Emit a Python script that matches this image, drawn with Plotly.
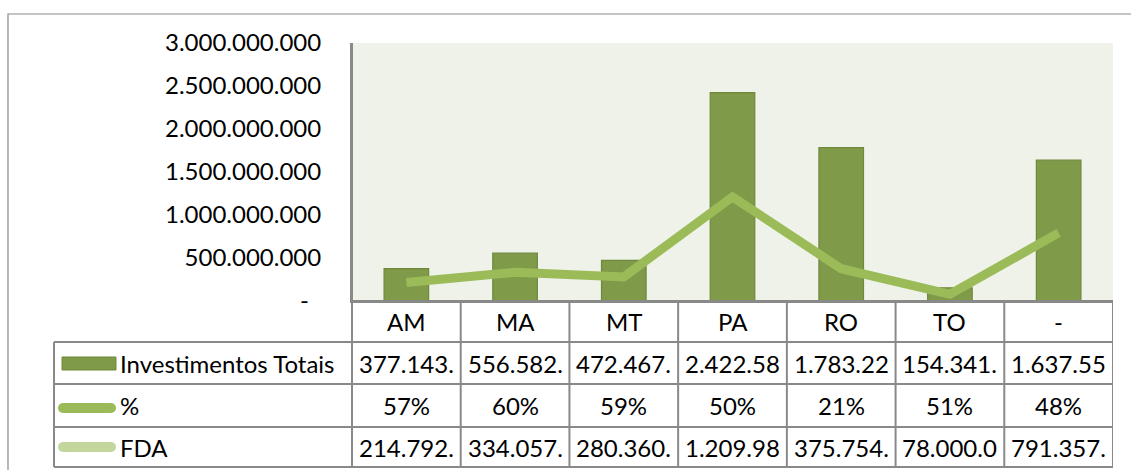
import plotly.graph_objects as go

# ---------------- data ----------------
categories = ["AM", "MA", "MT", "PA", "RO", "TO", "-"]
investimentos = [377143000, 556582000, 472467000, 2422580000, 1783220000, 154341000, 1637550000]
pct = [0.57, 0.60, 0.59, 0.50, 0.21, 0.51, 0.48]
fda = [214792000, 334057000, 280360000, 1209980000, 375754000, 78000000, 791357000]
series_names = ["Investimentos Totais", "%", "FDA"]
y_tickvals = [0, 500000000, 1000000000, 1500000000, 2000000000, 2500000000, 3000000000]
y_ticktext = ["-\u00a0\u00a0", "500.000.000", "1.000.000.000", "1.500.000.000",
              "2.000.000.000", "2.500.000.000", "3.000.000.000"]

# ---------------- layout constants ----------------
W, H = 1131, 470
PX0, PX1 = 352, 1113      # plot area x (pixels)
PY0, PY1 = 43, 301        # plot area y (pixels, top / bottom)
ROWS = [301, 342, 384, 427, 467]   # table row borders (pixels)
LEG_X0 = 54
FONT = "Lato"
FS = 24
GRID = "#898989"
BAR = "#7F9A48"
BAR_LINE = "#6F883C"
LINE1 = "#9BBB59"
LINE2 = "#C3D69B"


def px(x):
    return x / W


def py(y):
    return 1 - y / H


def fmt_cell(v):
    s = f"{v:,.0f}".replace(",", ".")
    return s[:8]


def fmt_pct(v):
    return f"{round(v * 100):d}%"


fig = go.Figure()
fig.add_trace(go.Bar(
    x=categories, y=investimentos, name=series_names[0],
    marker=dict(color=BAR, line=dict(color=BAR_LINE, width=1.2)),
    width=0.41, showlegend=False, hoverinfo="skip"))
fig.add_trace(go.Scatter(
    x=categories, y=fda, name=series_names[2], mode="lines",
    line=dict(color=LINE1, width=9), showlegend=False, hoverinfo="skip"))

shapes = []
annotations = []

# outer chart border
shapes.append(dict(type="rect", xref="paper", yref="paper",
                   x0=px(8), x1=px(W + 20), y0=py(14), y1=py(H + 20),
                   line=dict(color=GRID, width=1.2), fillcolor="rgba(0,0,0,0)", layer="below"))

n = len(categories)
# vertical table lines at category boundaries
for k in range(n + 1):
    shapes.append(dict(type="line", xref="x", yref="paper",
                       x0=k - 0.5, x1=k - 0.5, y0=py(ROWS[0]), y1=py(ROWS[-1]),
                       line=dict(color=GRID, width=2)))
# left axis continuation
shapes.append(dict(type="line", xref="paper", yref="paper",
                   x0=px(PX0), x1=px(PX0), y0=py(PY0), y1=py(ROWS[-1]),
                   line=dict(color=GRID, width=2)))
# horizontal rows
for i, r in enumerate(ROWS):
    x0 = PX0 if i == 0 else LEG_X0
    shapes.append(dict(type="line", xref="paper", yref="paper",
                       x0=px(x0), x1=px(PX1), y0=py(r), y1=py(r),
                       line=dict(color=GRID, width=2)))
# legend column left border
shapes.append(dict(type="line", xref="paper", yref="paper",
                   x0=px(LEG_X0), x1=px(LEG_X0), y0=py(ROWS[1]), y1=py(ROWS[-1]),
                   line=dict(color=GRID, width=2)))

# legend keys
shapes.append(dict(type="rect", xref="paper", yref="paper",
                   x0=px(62), x1=px(116), y0=py(357), y1=py(370),
                   fillcolor=BAR, line=dict(color=BAR_LINE, width=1)))
for yc, col in [(408, LINE1), (447, LINE2)]:
    shapes.append(dict(type="line", xref="paper", yref="paper",
                       x0=px(63), x1=px(111), y0=py(yc), y1=py(yc),
                       line=dict(color=col, width=10)))
    for xc in (63, 111):
        shapes.append(dict(type="circle", xref="paper", yref="paper",
                           x0=px(xc - 5), x1=px(xc + 5), y0=py(yc - 5), y1=py(yc + 5),
                           fillcolor=col, line=dict(width=0)))


def row_center(i):
    return (ROWS[i] + ROWS[i + 1]) / 2


# header row categories
for c in categories:
    annotations.append(dict(x=c, y=py(row_center(0)), xref="x", yref="paper",
                            text=c, showarrow=False, font=dict(family=FONT, size=FS, color="black"),
                            xanchor="center", yanchor="middle"))
# value rows
rows_text = [[fmt_cell(v) for v in investimentos], [fmt_pct(v) for v in pct], [fmt_cell(v) for v in fda]]
for i, vals in enumerate(rows_text):
    for c, t in zip(categories, vals):
        annotations.append(dict(x=c, y=py(row_center(i + 1)), xref="x", yref="paper",
                                text=t, showarrow=False, font=dict(family=FONT, size=FS, color="black"),
                                xanchor="center", yanchor="middle"))
    annotations.append(dict(x=px(118), y=py(row_center(i + 1)), xref="paper", yref="paper",
                            text=series_names[i], showarrow=False,
                            font=dict(family=FONT, size=FS, color="black"),
                            xanchor="left", yanchor="middle"))

fig.update_layout(
    width=W, height=H,
    margin=dict(l=0, r=0, t=0, b=0, pad=0, autoexpand=False),
    paper_bgcolor="white",
    plot_bgcolor="#EFF2E9",
    shapes=shapes,
    annotations=annotations,
    font=dict(family=FONT, size=FS, color="black"),
    xaxis=dict(domain=[px(PX0), px(PX1)], showticklabels=False, showgrid=False,
               showline=True, linecolor=GRID, linewidth=2, ticks="", zeroline=False,
               range=[-0.5, n - 0.5], fixedrange=True, automargin=False),
    yaxis=dict(domain=[py(PY1), py(PY0)], range=[0, 3000000000],
               tickvals=y_tickvals, ticktext=y_ticktext, showgrid=False, zeroline=False,
               showline=True, linecolor=GRID, linewidth=2, ticks="",
               ticklabelstandoff=24, tickfont=dict(family=FONT, size=FS, color="black"),
               fixedrange=True, automargin=False),
)

fig.write_html("out.html", config={"displayModeBar": False, "responsive": False},
               post_script="document.body.style.margin='0';document.body.style.overflow='hidden';")
